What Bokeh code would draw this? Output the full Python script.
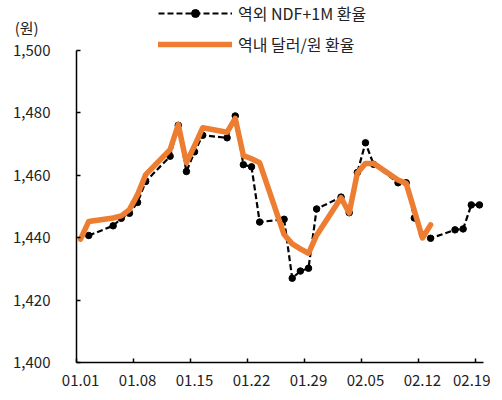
import pandas as pd
from bokeh.plotting import figure
from bokeh.models import (ColumnDataSource, FixedTicker, NumeralTickFormatter, Label,
                          Range1d, LinearAxis)
from bokeh.embed import file_html
from bokeh.resources import INLINE

# offshore NDF 1M rate (black dashed with dots)
ndf_dates = ["2026-01-02", "2026-01-05", "2026-01-06", "2026-01-07", "2026-01-08", "2026-01-09",
             "2026-01-12", "2026-01-13", "2026-01-14", "2026-01-15", "2026-01-16",
             "2026-01-19", "2026-01-20", "2026-01-21", "2026-01-22", "2026-01-23",
             "2026-01-26", "2026-01-27", "2026-01-28", "2026-01-29", "2026-01-30",
             "2026-02-02", "2026-02-03", "2026-02-04", "2026-02-05", "2026-02-06",
             "2026-02-09", "2026-02-10", "2026-02-11", "2026-02-12", "2026-02-13",
             "2026-02-16", "2026-02-17", "2026-02-18", "2026-02-19"]
ndf_rate = [1440.7, 1443.8, 1446.2, 1447.8, 1451.3, 1458.0,
            1466.1, 1476.0, 1461.2, 1467.5, 1472.8,
            1472.0, 1479.0, 1463.4, 1462.7, 1445.0,
            1445.9, 1427.0, 1429.3, 1430.2, 1449.2,
            1453.0, 1448.0, 1460.9, 1470.4, 1463.5,
            1457.6, 1457.6, 1446.3, 1441.0, 1439.8,
            1442.5, 1442.8, 1450.5, 1450.5]

# onshore USD/KRW close (orange)
krw_dates = ["2026-01-01", "2026-01-02", "2026-01-05", "2026-01-06", "2026-01-07", "2026-01-08", "2026-01-09",
             "2026-01-12", "2026-01-13", "2026-01-14", "2026-01-15", "2026-01-16",
             "2026-01-19", "2026-01-20", "2026-01-21", "2026-01-22", "2026-01-23",
             "2026-01-26", "2026-01-27", "2026-01-28", "2026-01-29", "2026-01-30",
             "2026-02-02", "2026-02-03", "2026-02-04", "2026-02-05", "2026-02-06",
             "2026-02-09", "2026-02-10", "2026-02-11", "2026-02-12", "2026-02-13"]
krw_rate = [1439.5, 1445.2, 1446.3, 1447.0, 1449.0, 1453.8, 1460.2,
            1468.2, 1476.2, 1464.0, 1469.5, 1475.2,
            1473.8, 1478.2, 1466.3, 1465.3, 1464.0,
            1441.0, 1438.0, 1436.4, 1435.0, 1440.8,
            1452.8, 1447.9, 1460.7, 1463.8, 1463.8,
            1458.5, 1457.4, 1448.7, 1439.9, 1444.1]

tick_labels = ["01.01", "01.08", "01.15", "01.22", "01.29", "02.05", "02.12", "02.19"]
y_ticks = [1400, 1420, 1440, 1460, 1480, 1500]

start = pd.Timestamp("2026-01-01")


def day_pos(dates):
    # every day gets its own slot, point sits in the middle of it
    return [(pd.Timestamp(d) - start).days + 0.5 for d in dates]


tick_days = [(pd.Timestamp("2026-" + t.replace(".", "-")) - start).days for t in tick_labels]
# tick marks on slot edges, labels in the middle of the slot (Excel date axis look)
label_pos = [d + 0.5 for d in tick_days]

FONT = "Noto Sans CJK KR"

ndf_src = ColumnDataSource(data=dict(x=day_pos(ndf_dates), y=ndf_rate))
krw_src = ColumnDataSource(data=dict(x=day_pos(krw_dates), y=krw_rate))

# frame covers the whole canvas; axes are pinned inside it so legend and unit text are not clipped
p = figure(width=490, height=396, output_backend="svg", toolbar_location=None,
           x_range=Range1d(-9.34, 50.86), y_range=Range1d(1389.1, 1516.0),
           x_axis_type=None, y_axis_type=None, min_border=0)
p.outline_line_color = None
p.grid.grid_line_color = None

p.line('x', 'y', source=ndf_src, color="black", line_width=2.2, line_dash="6 3",
       legend_label="역외 NDF+1M 환율")
p.scatter('x', 'y', source=ndf_src, size=6.5, color="black", legend_label="역외 NDF+1M 환율")
p.line('x', 'y', source=krw_src, color="#ED7D31", line_width=5.5, line_join="round",
       line_cap="round", legend_label="역내 달러/원 환율")

xaxis = LinearAxis(ticker=FixedTicker(ticks=tick_days), fixed_location=1400, bounds=(0, 50),
                   major_label_text_alpha=0)
xlabels = LinearAxis(ticker=FixedTicker(ticks=label_pos), fixed_location=1400,
                     major_label_overrides={pos: lab for pos, lab in zip(label_pos, tick_labels)},
                     major_label_standoff=13, axis_line_color=None, major_tick_line_color=None)
yaxis = LinearAxis(ticker=FixedTicker(ticks=y_ticks), fixed_location=0, bounds=(1400, 1500),
                   formatter=NumeralTickFormatter(format="0,0"), major_label_standoff=26)

for ax in [xaxis, yaxis]:
    ax.axis_line_color = "black"
    ax.axis_line_width = 1.5
    ax.major_tick_line_color = "black"
    ax.major_tick_line_width = 1.5
    ax.major_tick_in = 4
    ax.major_tick_out = 0
for ax in [xaxis, xlabels, yaxis]:
    ax.minor_tick_line_color = None
    ax.major_label_text_font = FONT
    ax.major_label_text_font_size = "15px"
    ax.major_label_text_color = "#222222"
xlabels.major_tick_in = 0
xlabels.major_tick_out = 0
p.add_layout(xaxis, "below")
p.add_layout(xlabels, "below")
p.add_layout(yaxis, "left")

# legend anchored by its bottom-left corner
p.legend.location = (158, 340)
p.legend.orientation = "vertical"
p.legend.padding = 0
p.legend.spacing = 7
p.legend.label_height = 20
p.legend.glyph_height = 20
p.legend.glyph_width = 74
p.legend.label_standoff = 6
p.legend.border_line_color = None
p.legend.background_fill_alpha = 0
p.legend.label_text_font = FONT
p.legend.label_text_font_size = "16px"
p.legend.label_text_color = "#222222"

unit = Label(x=-7.6, y=1507.4, text="(원)",
             text_font=FONT, text_font_size="15px", text_color="#222222",
             text_baseline="middle")
p.add_layout(unit)

open("out.html", "w").write(file_html(p, INLINE))
